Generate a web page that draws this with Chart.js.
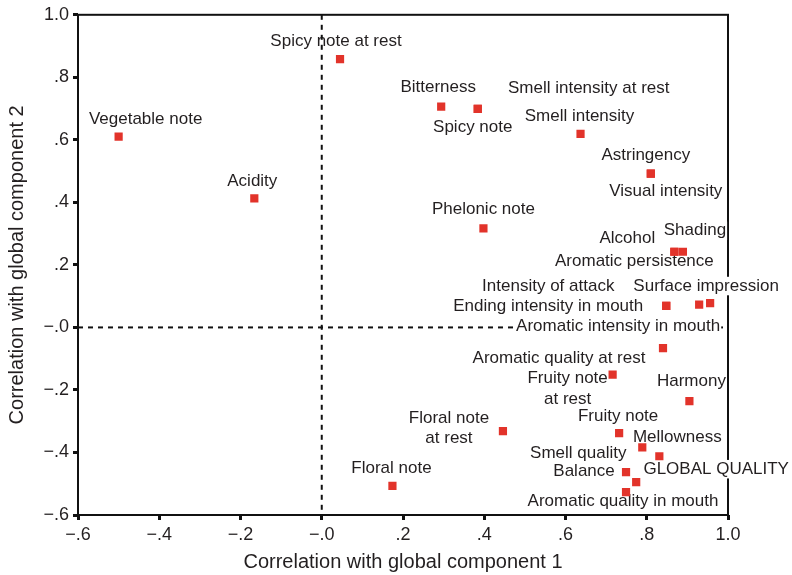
<!DOCTYPE html>
<html>
<head>
<meta charset="utf-8">
<script src="https://cdn.jsdelivr.net/npm/chart.js@4/dist/chart.umd.min.js"></script>
<style>
  html, body { margin: 0; padding: 0; background: #fff; }
</style>
</head>
<body>
<canvas id="myChart" width="792" height="575"></canvas>
<script>
// variables and their correlations with the two global components
const variables = [
  'Vegetable note', 'Acidity', 'Spicy note at rest', 'Bitterness', 'Spicy note',
  'Smell intensity at rest', 'Smell intensity', 'Astringency', 'Visual intensity',
  'Phelonic note', 'Alcohol', 'Shading', 'Aromatic persistence', 'Intensity of attack',
  'Ending intensity in mouth', 'Surface impression', 'Aromatic intensity in mouth',
  'Aromatic quality at rest', 'Fruity note\nat rest', 'Harmony', 'Floral note\nat rest',
  'Fruity note', 'Mellowness', 'Smell quality', 'GLOBAL QUALITY', 'Balance',
  'Aromatic quality in mouth', 'Floral note'
];
const component1 = [
  -0.50, -0.166, 0.045, 0.294, 0.384,
  0.384, 0.637, 0.810, 0.810,
  0.398, 0.868, 0.889, 0.868, 0.848,
  0.848, 0.956, 0.929,
  0.840, 0.716, 0.905, 0.446,
  0.732, 0.831, 0.789, 0.774, 0.749,
  0.749, 0.174
];
const component2 = [
  0.610, 0.413, 0.858, 0.706, 0.699,
  0.699, 0.619, 0.492, 0.492,
  0.317, 0.242, 0.242, 0.242, 0.069,
  0.069, 0.078, 0.073,
  -0.066, -0.151, -0.236, -0.332,
  -0.338, -0.412, -0.384, -0.495, -0.463,
  -0.527, -0.507
];
const xTickLabels = ['\u2212.6', '\u2212.4', '\u2212.2', '\u2212.0', '.2', '.4', '.6', '.8', '1.0'];
const yTickLabels = ['\u2212.6', '\u2212.4', '\u2212.2', '\u2212.0', '.2', '.4', '.6', '.8', '1.0'];

// where each text sits, in pixels from its marker (centre of the text block)
const labelDx = [27, -2, -4, -3, -5, 111, -1, -5, 15, 0, -47, 12, -40, -118, -118, -4, -81,
  -104, -45, 2, -54, -1, 18, -64, 80, -42, -3, -1];
const labelDy = [-17, -17, -18, -19, 18, -21, -18, -18, 18, -19, -13, -21, 10, -20, 0, -17, 22,
  10, 14, -20, -3, -17, -19, 6, -13, -1, 9, -18];

const FONT = '"Liberation Sans", Arial, Helvetica, sans-serif';
const INK = '#231f20';

const decorations = {
  id: 'decorations',
  beforeDatasetsDraw(chart) {
    const ctx = chart.ctx;
    const area = chart.chartArea;
    const x0 = chart.scales.x.getPixelForValue(0);
    const y0 = chart.scales.y.getPixelForValue(0);
    ctx.save();
    // frame
    ctx.strokeStyle = '#111';
    ctx.lineWidth = 2;
    ctx.strokeRect(area.left, area.top, area.right - area.left, area.bottom - area.top);
    // horizontal reference line
    ctx.setLineDash([5, 5]);
    ctx.beginPath();
    ctx.moveTo(area.left, y0);
    ctx.lineTo(area.right, y0);
    ctx.stroke();
    ctx.setLineDash([]);

    // labels on white boxes
    const meta = chart.getDatasetMeta(0);
    ctx.font = '17px ' + FONT;
    ctx.textAlign = 'center';
    ctx.textBaseline = 'middle';
    const lineH = 20.5;
    meta.data.forEach((pt, i) => {
      const lines = variables[i].split('\n');
      const cx = pt.x + labelDx[i];
      const cy = pt.y + labelDy[i];
      const w = Math.max(...lines.map(l => ctx.measureText(l).width));
      const h = lines.length * lineH;
      ctx.fillStyle = '#fff';
      ctx.fillRect(cx - w / 2 - 1, cy - h / 2 + 1, w + 2, h - 2);
      ctx.fillStyle = INK;
      lines.forEach((l, k) => {
        ctx.fillText(l, cx, cy - h / 2 + lineH / 2 + k * lineH);
      });
    });

    // vertical reference line
    ctx.strokeStyle = '#111';
    ctx.setLineDash([5, 5]);
    ctx.beginPath();
    ctx.moveTo(x0, area.top);
    ctx.lineTo(x0, area.bottom);
    ctx.stroke();
    ctx.restore();
  }
};

Chart.defaults.font.family = FONT;
Chart.defaults.color = INK;

const ctx = document.getElementById('myChart').getContext('2d');
new Chart(ctx, {
  type: 'scatter',
  data: {
    datasets: [{
      label: 'Variables',
      data: variables.map((v, i) => ({ x: component1[i], y: component2[i] })),
      pointStyle: 'rect',
      pointRadius: 5.8,
      pointHoverRadius: 5.8,
      backgroundColor: '#e2332a',
      borderColor: '#e2332a',
      borderWidth: 0
    }]
  },
  options: {
    responsive: false,
    animation: false,
    layout: { padding: { top: 11, right: 64, left: 0, bottom: 0 } },
    plugins: {
      legend: { display: false },
      tooltip: { enabled: false }
    },
    scales: {
      x: {
        type: 'linear',
        min: -0.6,
        max: 1.0,
        afterFit: s => { s.height = 60; },
        ticks: {
          stepSize: 0.2,
          padding: 4,
          font: { size: 18 },
          color: INK,
          callback: (v, i) => xTickLabels[i]
        },
        grid: { display: true, drawOnChartArea: false, drawTicks: true, tickLength: 5, tickWidth: 3, tickColor: '#111' },
        border: { display: false },
        title: {
          display: true,
          text: 'Correlation with global component 1',
          font: { size: 20 },
          color: INK,
          padding: { top: 0, bottom: 1 }
        }
      },
      y: {
        type: 'linear',
        min: -0.6,
        max: 1.0,
        afterFit: s => { s.width = 78; },
        ticks: {
          stepSize: 0.2,
          padding: 4,
          font: { size: 18 },
          color: INK,
          callback: (v, i) => yTickLabels[i]
        },
        grid: { display: true, drawOnChartArea: false, drawTicks: true, tickLength: 5, tickWidth: 3, tickColor: '#111' },
        border: { display: false },
        title: {
          display: true,
          text: 'Correlation with global component 2',
          font: { size: 20 },
          color: INK,
          padding: { top: 5, bottom: 0 }
        }
      }
    }
  },
  plugins: [decorations]
});
</script>
</body>
</html>
